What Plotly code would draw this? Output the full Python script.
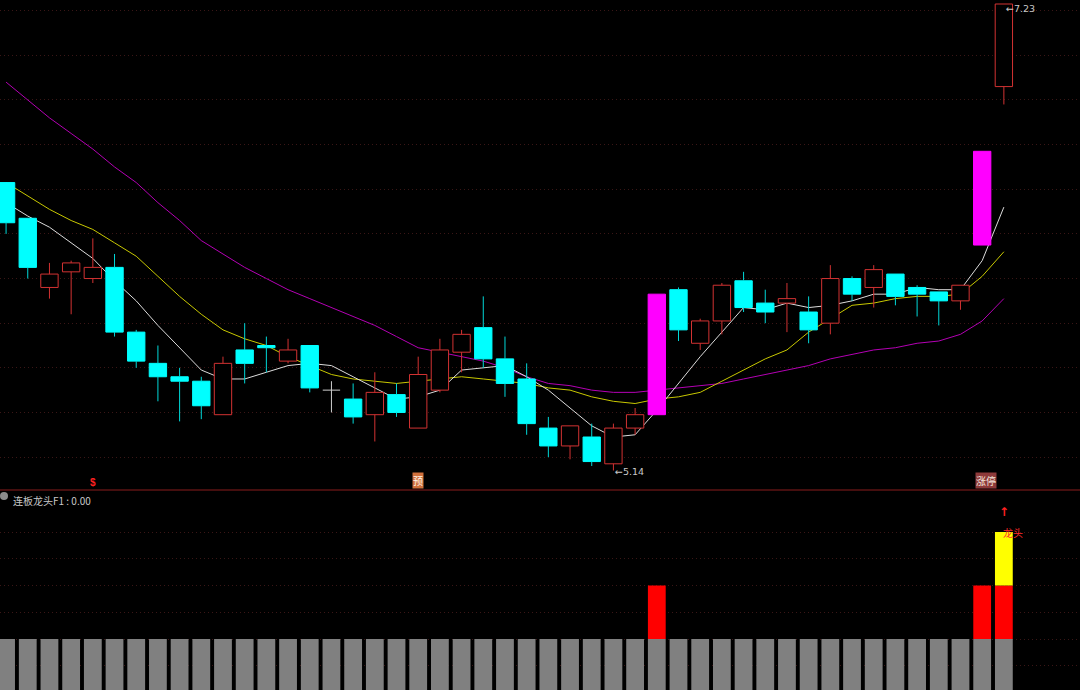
import plotly.graph_objects as go

# ---------------- data ----------------
idx = list(range(47))
opens = [6.43, 6.27, 5.96, 6.03, 6.00, 6.05, 5.76, 5.62, 5.56, 5.54,
         5.39, 5.68, 5.70, 5.63, 5.70, 5.50, 5.46, 5.39, 5.48, 5.33,
         5.50, 5.67, 5.78, 5.64, 5.55, 5.33, 5.25, 5.29, 5.17, 5.33,
         5.39, 5.95, 5.71, 5.81, 5.99, 5.89, 5.89, 5.85, 5.80, 6.00,
         5.96, 6.02, 5.96, 5.94, 5.90, 6.15, 6.86]
highs = [6.43, 6.27, 6.07, 6.08, 6.18, 6.11, 5.77, 5.70, 5.60, 5.56,
         5.65, 5.80, 5.74, 5.73, 5.70, 5.54, 5.53, 5.58, 5.53, 5.65,
         5.73, 5.77, 5.92, 5.74, 5.62, 5.38, 5.34, 5.35, 5.35, 5.42,
         5.93, 5.96, 5.82, 5.98, 6.03, 5.95, 5.98, 5.92, 6.06, 6.01,
         6.06, 6.02, 5.97, 5.94, 5.97, 6.57, 7.23]
lows = [6.20, 6.00, 5.91, 5.84, 5.98, 5.74, 5.60, 5.45, 5.36, 5.37,
        5.39, 5.53, 5.58, 5.62, 5.49, 5.40, 5.35, 5.27, 5.38, 5.33,
        5.49, 5.58, 5.60, 5.47, 5.30, 5.20, 5.19, 5.16, 5.14, 5.30,
        5.39, 5.72, 5.68, 5.75, 5.85, 5.80, 5.76, 5.71, 5.75, 5.90,
        5.87, 5.88, 5.83, 5.79, 5.86, 6.15, 6.78]
closes = [6.25, 6.05, 6.02, 6.07, 6.05, 5.76, 5.63, 5.56, 5.54, 5.43,
          5.62, 5.62, 5.69, 5.68, 5.51, 5.50, 5.38, 5.49, 5.40, 5.57,
          5.68, 5.75, 5.64, 5.53, 5.35, 5.25, 5.34, 5.18, 5.33, 5.39,
          5.93, 5.77, 5.81, 5.97, 5.87, 5.85, 5.91, 5.77, 6.00, 5.93,
          6.04, 5.92, 5.93, 5.90, 5.97, 6.57, 7.23]
ma5 = [6.34, 6.28, 6.23, 6.16, 6.09, 5.99, 5.90, 5.79, 5.69, 5.59,
       5.55, 5.55, 5.58, 5.61, 5.62, 5.61, 5.56, 5.51, 5.46, 5.47,
       5.50, 5.59, 5.60, 5.61, 5.56, 5.50, 5.42, 5.34, 5.29, 5.30,
       5.41, 5.53, 5.65, 5.76, 5.87, 5.86, 5.89, 5.87, 5.88, 5.90,
       5.93, 5.93, 5.96, 5.95, 5.95, 6.08, 6.32]
ma10 = [6.43, 6.37, 6.31, 6.26, 6.22, 6.16, 6.10, 6.01, 5.92, 5.84,
        5.77, 5.73, 5.70, 5.65, 5.61, 5.57, 5.55, 5.54, 5.53, 5.54,
        5.55, 5.56, 5.55, 5.54, 5.53, 5.51, 5.50, 5.47, 5.45, 5.44,
        5.46, 5.47, 5.49, 5.54, 5.59, 5.64, 5.68, 5.76, 5.82, 5.88,
        5.89, 5.91, 5.92, 5.92, 5.93, 6.01, 6.12]
ma20 = [6.88, 6.80, 6.72, 6.65, 6.58, 6.50, 6.43, 6.34, 6.26, 6.17,
        6.11, 6.05, 6.00, 5.95, 5.91, 5.87, 5.83, 5.79, 5.74, 5.69,
        5.67, 5.65, 5.63, 5.60, 5.56, 5.53, 5.52, 5.50, 5.49, 5.49,
        5.50, 5.51, 5.52, 5.53, 5.55, 5.57, 5.59, 5.61, 5.64, 5.66,
        5.68, 5.69, 5.71, 5.72, 5.75, 5.81, 5.91]
limit_up_idx = [30, 45]          # magenta (涨停) candles

# indicator panel (连板龙头F1)
gray_vals = [1, 1, 1, 1, 1, 1, 1, 1, 1, 1, 1, 1, 1, 1, 1, 1, 1, 1, 1, 1,
             1, 1, 1, 1, 1, 1, 1, 1, 1, 1, 1, 1, 1, 1, 1, 1, 1, 1, 1, 1,
             1, 1, 1, 1, 1, 1, 1]
red_vals = [0, 0, 0, 0, 0, 0, 0, 0, 0, 0, 0, 0, 0, 0, 0, 0, 0, 0, 0, 0,
            0, 0, 0, 0, 0, 0, 0, 0, 0, 0, 1, 0, 0, 0, 0, 0, 0, 0, 0, 0,
            0, 0, 0, 0, 0, 1, 1]
yellow_vals = [0, 0, 0, 0, 0, 0, 0, 0, 0, 0, 0, 0, 0, 0, 0, 0, 0, 0, 0, 0,
               0, 0, 0, 0, 0, 0, 0, 0, 0, 0, 0, 0, 0, 0, 0, 0, 0, 0, 0, 0,
               0, 0, 0, 0, 0, 0, 1]
sig_idx = [4, 19, 45]
sig_text = ["$", "预", "涨停"]
ind_title = "连板龙头F1 : 0.00"
dragon_text = "龙头"

# ---------------- styles ----------------
RED = "#d23232"
CYAN = "#00ffff"
MAG = "#ff00ff"
GRID = "#3a1616"
GRID_DASH = "1px,3px"
BODY_W = 0.8
TOP_DOMAIN = [200 / 690, 1.0]
BOT_DOMAIN = [0.0, 200 / 690]

up = [i for i in idx if closes[i] > opens[i] and i not in limit_up_idx]
down = [i for i in idx if closes[i] < opens[i] and i not in limit_up_idx]
doji = [i for i in idx if closes[i] == opens[i] and i not in limit_up_idx]


def wick_xy(sel):
    xs, ys = [], []
    for i in sel:
        top = max(opens[i], closes[i])
        bot = min(opens[i], closes[i])
        if highs[i] > top:
            xs += [i, i, None]
            ys += [top, highs[i], None]
        if lows[i] < bot:
            xs += [i, i, None]
            ys += [lows[i], bot, None]
    return xs, ys


fig = go.Figure()

# moving averages (beneath candles)
for vals, col in [(ma20, "#b400b4"), (ma10, "#c8c800"), (ma5, "#dcdcdc")]:
    fig.add_trace(go.Scatter(x=idx, y=vals, mode="lines",
                             line=dict(color=col, width=1),
                             xaxis="x", yaxis="y", zorder=0, hoverinfo="skip"))


def body_trace(sel, fill, edge):
    return go.Bar(x=sel, y=[abs(closes[i] - opens[i]) for i in sel],
                  base=[min(opens[i], closes[i]) for i in sel],
                  width=BODY_W, marker=dict(color=fill, line=dict(color=edge, width=1)),
                  xaxis="x", yaxis="y", zorder=1, hoverinfo="skip")


# wicks
for sel, col in [(up, RED), (down, "#00d8d8"), (limit_up_idx, MAG)]:
    wx, wy = wick_xy(sel)
    fig.add_trace(go.Scatter(x=wx, y=wy, mode="lines", line=dict(color=col, width=1),
                             xaxis="x", yaxis="y", zorder=1, hoverinfo="skip"))
# doji
dx, dy = [], []
for i in doji:
    dx += [i, i, None, i - BODY_W / 2, i + BODY_W / 2, None]
    dy += [lows[i], highs[i], None, opens[i], opens[i], None]
fig.add_trace(go.Scatter(x=dx, y=dy, mode="lines", line=dict(color="#d0d0d0", width=1),
                         xaxis="x", yaxis="y", zorder=1, hoverinfo="skip"))

fig.add_trace(body_trace(up, "#000000", RED))
fig.add_trace(body_trace(down, CYAN, CYAN))
fig.add_trace(body_trace(limit_up_idx, MAG, MAG))

# indicator bars
fig.add_trace(go.Bar(x=idx, y=gray_vals, base=[0] * len(idx), width=0.82,
                     marker=dict(color="#808080", line=dict(width=0)),
                     xaxis="x2", yaxis="y2", hoverinfo="skip"))
fig.add_trace(go.Bar(x=idx, y=red_vals, base=gray_vals, width=0.82,
                     marker=dict(color="#ff0000", line=dict(width=0)),
                     xaxis="x2", yaxis="y2", hoverinfo="skip"))
fig.add_trace(go.Bar(x=idx, y=yellow_vals,
                     base=[g + r for g, r in zip(gray_vals, red_vals)], width=0.82,
                     marker=dict(color="#ffff00", line=dict(width=0)),
                     xaxis="x2", yaxis="y2", hoverinfo="skip"))

# ---------------- annotations ----------------
ann = []
hi_i = max(idx, key=lambda i: highs[i])
lo_i = min(idx, key=lambda i: lows[i])
ann.append(dict(x=hi_i, y=highs[hi_i], xref="x", yref="y", text="←%.2f" % highs[hi_i],
                showarrow=False, xanchor="left", yanchor="middle", yshift=-4,
                font=dict(family="DejaVu Sans", size=9.5, color="#c8c8c8")))
ann.append(dict(x=lo_i, y=lows[lo_i], xref="x", yref="y", text="←%.2f" % lows[lo_i],
                showarrow=False, xanchor="left", yanchor="middle", yshift=-1,
                font=dict(family="DejaVu Sans", size=9.5, color="#c8c8c8")))

for i, t in zip(sig_idx, sig_text):
    if t == "$":
        ann.append(dict(x=i, y=TOP_DOMAIN[0], xref="x", yref="paper", text="<b>$</b>",
                        showarrow=False, xanchor="center", yanchor="bottom", yshift=0,
                        font=dict(family="Liberation Sans", size=10, color="#ff2020")))
    elif t == "预":
        ann.append(dict(x=i, y=TOP_DOMAIN[0], xref="x", yref="paper", text=t,
                        showarrow=False, xanchor="center", yanchor="bottom", yshift=1,
                        bgcolor="#d0703c", borderpad=0,
                        font=dict(family="Noto Sans CJK SC", size=10, color="#fff4e8")))
    else:
        ann.append(dict(x=i, y=TOP_DOMAIN[0], xref="x", yref="paper", text=t,
                        showarrow=False, xanchor="center", yanchor="bottom", yshift=1, xshift=4,
                        bgcolor="#8e3a3a", borderpad=0,
                        font=dict(family="Noto Sans CJK SC", size=10, color="#f4e6dc")))

ann.append(dict(x=0, y=TOP_DOMAIN[0], xref="paper", yref="paper", text=ind_title,
                showarrow=False, xanchor="left", yanchor="top", xshift=11, yshift=-1,
                font=dict(family="Noto Sans CJK SC", size=10, color="#c8c8c8")))

top_i = max(idx, key=lambda i: gray_vals[i] + red_vals[i] + yellow_vals[i])
top_v = gray_vals[top_i] + red_vals[top_i] + yellow_vals[top_i]
ann.append(dict(x=top_i, y=top_v, xref="x2", yref="y2", text="<b>↑</b>",
                showarrow=False, xanchor="center", yanchor="middle", yshift=20,
                font=dict(family="DejaVu Sans", size=12, color="#ff2020")))
ann.append(dict(x=top_i, y=top_v, xref="x2", yref="y2", text=dragon_text,
                showarrow=False, xanchor="left", yanchor="middle", xshift=-3,
                font=dict(family="Noto Sans CJK SC", size=10, color="#ff2a2a")))

shapes = [
    dict(type="line", xref="paper", yref="paper", x0=0, x1=1,
         y0=TOP_DOMAIN[0], y1=TOP_DOMAIN[0], line=dict(color="#8a1c1c", width=1)),
    dict(type="circle", xref="paper", yref="paper",
         x0=0 / 1080, x1=8 / 1080, y0=(690 - 500) / 690, y1=(690 - 492) / 690,
         fillcolor="#8c8c8c", line=dict(width=0)),
]

xr = [-0.28, 49.51]
fig.update_layout(
    width=1080, height=690,
    margin=dict(l=0, r=0, t=0, b=0),
    paper_bgcolor="#000000", plot_bgcolor="#000000",
    showlegend=False, hovermode=False,
    barmode="overlay",
    xaxis=dict(domain=[0, 1], range=xr, visible=False, anchor="y"),
    xaxis2=dict(domain=[0, 1], range=xr, visible=False, anchor="y2", matches="x"),
    yaxis=dict(domain=TOP_DOMAIN, range=[5.0526, 7.2479], tick0=0, dtick=0.2,
               showgrid=True, gridcolor=GRID, griddash=GRID_DASH, gridwidth=1,
               showticklabels=False, ticks="", zeroline=False, showline=False),
    yaxis2=dict(domain=BOT_DOMAIN, range=[0.0467, 3.785], tickmode="array",
                tickvals=[0.5, 1.0, 1.5, 2.0, 2.5, 3.0],
                showgrid=True, gridcolor=GRID, griddash=GRID_DASH, gridwidth=1,
                showticklabels=False, ticks="", zeroline=False, showline=False),
    annotations=ann, shapes=shapes,
)

fig.write_html("out.html", config={"displayModeBar": False, "staticPlot": True},
               post_script="document.body.style.margin='0';document.body.style.padding='0';"
                           "document.body.style.background='#000';"
                           "document.documentElement.style.overflow='hidden';")
